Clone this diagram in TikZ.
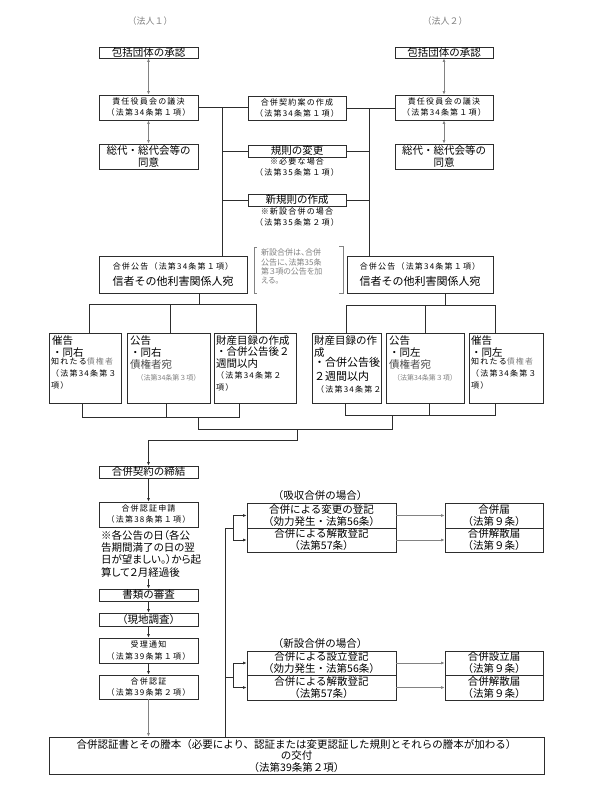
\documentclass[tikz,border=0pt]{standalone}
\usepackage{fontspec}
\setmainfont{Noto Sans CJK JP}
\newfontfamily\jpp[RawFeature=+palt]{Noto Sans CJK JP}
\newfontfamily\jps[LetterSpace=15]{Noto Sans CJK JP}
\usetikzlibrary{arrows.meta}
\definecolor{gr}{RGB}{130,130,130}
\definecolor{ink}{RGB}{45,45,45}
\newcommand{\mybox}[7]{\node[box,#2,minimum width={(#5-#3)*1pt},minimum height={(#6-#4)*1pt}] (#1) at ({(#3+#5)/2},{(#4+#6)/2}) {#7};}
\begin{document}
\begin{tikzpicture}[x=1pt,y=-1pt,
  box/.style={draw=ink, line width=0.8pt, inner sep=0pt, align=center, text=black},
  ln/.style={draw=ink, line width=0.8pt},
  arr/.style={ln, -{Latex[length=3.5pt,width=3pt]}},
  garr/.style={draw=gr, line width=0.8pt, -{Latex[length=3.5pt,width=3pt]}},
  gdarr/.style={draw=gr, line width=0.8pt, {Latex[length=3.5pt,width=3pt]}-{Latex[length=3.5pt,width=3pt]}},
  fb/.style={font=\fontsize{10.5}{12}\selectfont, align=center},
  fs/.style={font=\jps\fontsize{8}{11}\selectfont, align=center},
  fsl/.style={font=\jps\fontsize{8}{12}\selectfont, align=left, inner sep=0pt},
  fm/.style={font=\fontsize{10.5}{12}\selectfont, align=left, inner sep=0pt},
  tl/.style={anchor=north west},
]
\fill[white] (0,0) rectangle (594,800);
\useasboundingbox (0,0) rectangle (594,800);

% headings
\node[font=\fontsize{9}{11}\selectfont, text=gr] (h1) at (150,21) {（法人１）};
\node[font=\fontsize{9}{11}\selectfont, text=gr] (h2) at (445,21) {（法人２）};

% upper boxes
\mybox{hk1}{fb}{99}{47}{198}{58}{包括団体の承認}
\mybox{hk2}{fb}{395}{47}{493}{58}{包括団体の承認}
\mybox{sy1}{fs}{99}{95}{198}{120}{責任役員会の議決\\（法第34条第１項）}
\mybox{sy2}{fs}{395}{95}{493}{120}{責任役員会の議決\\（法第34条第１項）}
\mybox{kk}{fs}{248}{96}{346}{120}{合併契約案の作成\\（法第34条第１項）}
\mybox{sd1}{fb}{99}{144}{198}{169}{総代・総代会等の\\同意}
\mybox{sd2}{fb}{395}{144}{493}{169}{総代・総代会等の\\同意}
\mybox{kh}{fb}{248}{145}{346}{157}{規則の変更}
\node[fs] (khn) at (297,167.5) {※必要な場合\\（法第35条第１項）};
\mybox{sk}{fb}{248}{194}{346}{206}{新規則の作成}
\node[fs] (skn) at (297,217.5) {※新設合併の場合\\（法第35条第２項）};

% note with brackets
\node[font=\jpp\fontsize{8}{9.3}\selectfont, text=gr, align=left, inner sep=0pt, tl] (nt) at (261,249) {新設合併は、合併\\公告に、法第35条\\第３項の公告を加\\える。};
\draw[draw=gr, line width=0.6pt] (257,247) -- (254,247) -- (254,293) -- (257,293);
\draw[draw=gr, line width=0.6pt] (339,246) -- (343,246) -- (343,293) -- (339,293);

% notices
\mybox{kg1}{font=\fontsize{11}{16}\selectfont}{99}{256}{247}{293}{{\jps\fontsize{8}{11}\selectfont 合併公告（法第34条第１項）}\\信者その他利害関係人宛}
\mybox{kg2}{font=\fontsize{11}{16}\selectfont}{347}{256}{493}{293}{{\jps\fontsize{8}{11}\selectfont 合併公告（法第34条第１項）}\\信者その他利害関係人宛}

% small boxes left
\mybox{sa1}{}{49}{333}{121}{403}{}
\node[fm, tl] (sa1a) at (52,335) {催告\\・同右};
\node[fsl, tl] (sa1b) at (51,358) {知れたる{\color{gr}債権者}\\（法第34条第３\\項）};
\mybox{sb1}{}{127}{333}{210}{403}{}
\node[fm, tl] (sb1a) at (130,335) {公告\\・同右};
\node[font=\fontsize{10.5}{12}\selectfont, text=black!70, inner sep=0pt, tl] (sb1b) at (130,359.5) {債権者宛};
\node[font=\fontsize{7}{8}\selectfont, text=gr, inner sep=0pt] (sb1c) at (168.5,378) {（法第34条第３項）};
\mybox{sc1}{}{214}{333}{296}{403}{}
\node[fm, font=\fontsize{10.5}{11.5}\selectfont, tl] (sc1a) at (216,335) {財産目録の作成\\・合併公告後２\\週間以内};
\node[fsl, tl] (sc1b) at (216,371) {（法第34条第２\\項）};

% small boxes right
\mybox{sc2}{}{312}{333}{381}{403}{}
\node[fm, tl] (sc2a) at (314,335) {財産目録の作\\成};
\node[fm, font=\fontsize{11}{13.5}\selectfont, tl] (sc2b) at (314,357.5) {・合併公告後\\２週間以内};
\node[fsl, tl] (sc2c) at (316,385) {（法第34条第２};
\mybox{sb2}{}{386}{333}{464}{403}{}
\node[fm, tl] (sb2a) at (389,335) {公告\\・同左};
\node[font=\fontsize{10.5}{12}\selectfont, text=black!70, inner sep=0pt, tl] (sb2b) at (389,359.5) {債権者宛};
\node[font=\fontsize{7}{8}\selectfont, text=gr, inner sep=0pt] (sb2c) at (425,378) {（法第34条第３項）};
\mybox{sa2}{}{469}{333}{543}{403}{}
\node[fm, tl] (sa2a) at (471,335) {催告\\・同左};
\node[fsl, tl] (sa2b) at (471,358) {知れたる{\color{gr}債権者}\\（法第34条第３\\項）};

% process chain
\mybox{gk}{fb}{99}{466}{198}{478}{合併契約の締結}
\mybox{sn}{fs}{99}{502}{198}{527}{合併認証申請\\（法第38条第１項）}
\node[font=\jpp\fontsize{10.5}{12.4}\selectfont, align=left, inner sep=0pt, tl] (snn) at (101,530) {※各公告の日（各公\\告期間満了の日の翌\\日が望ましい。）から起\\算して２月経過後};
\mybox{ss}{fb}{99}{589}{198}{601}{書類の審査}
\mybox{gc}{fb}{99}{613}{198}{626}{（現地調査）}
\mybox{jt}{fs}{99}{638}{198}{663}{受理通知\\（法第39条第１項）}
\mybox{nk}{fs}{99}{675}{198}{699}{合併認証\\（法第39条第２項）}
\mybox{kf}{font=\fontsize{10.5}{11.5}\selectfont}{49}{737}{544}{774}{合併認証書とその謄本（必要により、認証または変更認証した規則とそれらの謄本が加わる）\\の交付\\（法第39条第２項）}

% registrations
\node[fb] (la) at (320,496) {（吸収合併の場合）};
\mybox{r1}{fb}{247}{503}{396}{528}{合併による変更の登記\\（効力発生・法第56条）}
\mybox{r2}{fb}{247}{528}{396}{552}{合併による解散登記\\（法第57条）}
\mybox{r3}{fb}{445}{503}{543}{528}{合併届\\（法第９条）}
\mybox{r4}{fb}{445}{528}{543}{552}{合併解散届\\（法第９条）}
\node[fb] (lb) at (320,644) {（新設合併の場合）};
\mybox{n1}{fb}{247}{651}{396}{675}{合併による設立登記\\（効力発生・法第56条）}
\mybox{n2}{fb}{247}{675}{396}{700}{合併による解散登記\\（法第57条）}
\mybox{n3}{fb}{445}{651}{543}{675}{合併設立届\\（法第９条）}
\mybox{n4}{fb}{445}{675}{543}{700}{合併解散届\\（法第９条）}

% connectors top
\draw[gdarr] (hk1) -- (sy1);
\draw[gdarr] (sy1) -- (sd1);
\draw[gdarr] (hk2) -- (sy2);
\draw[gdarr] (sy2) -- (sd2);
\draw[ln] (sy1.east) -- (sy1.east -| kk.west);
\draw[ln] (kk.east) -- (kk.east -| sy2.west);
\coordinate (vL) at (222,108);
\coordinate (vR) at (369,108);
\draw[ln] (vL) -- (vL |- kg1.north);
\draw[ln] (vR) -- (vR |- kg2.north);
\draw[ln] (vL |- kh.west) -- (kh.west);
\draw[ln] (kh.east) -- (kh.east -| vR);
\draw[ln] (vL |- sk.west) -- (sk.west);
\draw[ln] (sk.east) -- (sk.east -| vR);

% fans left
\coordinate (dL) at (199,304);
\coordinate (fa1) at (89,304);
\coordinate (fa2) at (170,304);
\coordinate (fa3) at (256,304);
\draw[ln] (dL |- kg1.south) -- (dL);
\draw[ln] (fa1 |- sa1.north) -- (fa1) -- (fa3) -- (fa3 |- sc1.north);
\draw[ln] (fa2) -- (fa2 |- sb1.north);
\coordinate (ba1) at (82,417);
\coordinate (ba2) at (166,417);
\coordinate (ba3) at (239,417);
\coordinate (bd) at (198,429);
\draw[ln] (ba1 |- sa1.south) -- (ba1) -- (ba3) -- (ba3 |- sc1.south);
\draw[ln] (ba2 |- sb1.south) -- (ba2);
\draw[ln] (bd |- ba1) -- (bd);

% fans right
\coordinate (dR) at (445,305);
\coordinate (fr1) at (346,305);
\coordinate (fr2) at (425,305);
\coordinate (fr3) at (495,305);
\draw[ln] (dR |- kg2.south) -- (dR);
\draw[ln] (fr1 |- sc2.north) -- (fr1) -- (fr3) -- (fr3 |- sa2.north);
\draw[ln] (fr2) -- (fr2 |- sb2.north);
\coordinate (br1) at (345,415);
\coordinate (br2) at (429,415);
\coordinate (br3) at (495,415);
\coordinate (brd) at (392,429);
\draw[ln] (br1 |- sc2.south) -- (br1) -- (br3) -- (br3 |- sa2.south);
\draw[ln] (br2 |- sb2.south) -- (br2);
\draw[ln] (brd |- br1) -- (brd) -- (bd);

% join to contract
\coordinate (jm) at (297,429);
\coordinate (jn) at (297,440);
\draw[arr] (jm) -- (jn) -| (gk.north);

% process arrows
\draw[arr] (gk) -- (sn);
\coordinate (ne) at (148.5,579);
\draw[arr] (ne) -- (ss.north);
\draw[arr] (ss) -- (gc);
\draw[arr] (gc) -- (jt);
\draw[arr] (jt) -- (nk);
\draw[garr] (nk) -- (nk.south |- kf.north);

% registration brackets
\coordinate (lv) at (225,528);
\coordinate (lv2) at (225,677);
\coordinate (bx) at (233,528);
\draw[ln] (lv |- kf.north) -- (lv) -- (bx);
\draw[ln] (bx |- r1.west) -- (bx |- r2.west);
\draw[arr] (bx |- r1.west) -- (r1.west);
\draw[arr] (bx |- r2.west) -- (r2.west);
\draw[ln] (lv2) -- (lv2 -| bx);
\draw[ln] (bx |- n1.west) -- (bx |- n2.west);
\draw[arr] (bx |- n1.west) -- (n1.west);
\draw[arr] (bx |- n2.west) -- (n2.west);
\draw[garr] (r1) -- (r3);
\draw[garr] (r2) -- (r4);
\draw[garr] (n1) -- (n3);
\draw[garr] (n2) -- (n4);
\end{tikzpicture}
\end{document}
